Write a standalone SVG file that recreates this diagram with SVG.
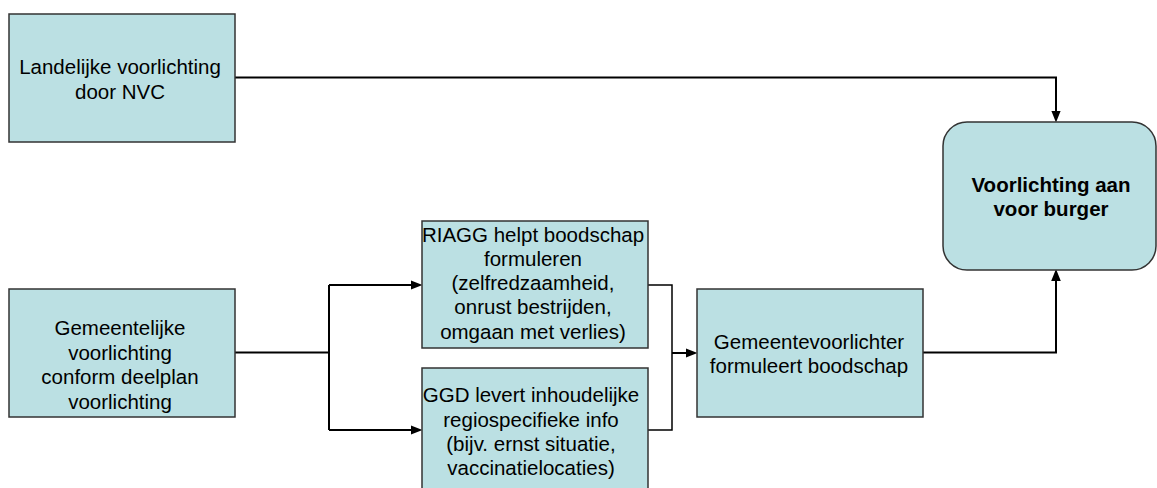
<svg xmlns="http://www.w3.org/2000/svg" width="1157" height="488" viewBox="0 0 1157 488">
<style>
.box{fill:#BBE0E3;stroke:#333;stroke-width:1.5}
.t{font-family:"Liberation Sans",Arial,sans-serif;font-size:20.5px;fill:#000;text-anchor:middle}
.b{font-weight:bold}
.c{fill:none;stroke:#000;stroke-width:2}
.thin{stroke-width:1.5}
</style>
<defs>
<marker id="ah" markerUnits="userSpaceOnUse" markerWidth="12" markerHeight="10" viewBox="0 0 10 8" refX="5" refY="4" orient="auto">
<path d="M0,0 L10,4 L0,8 Z" fill="#000"/>
</marker>
</defs>
<rect width="1157" height="488" fill="#fff"/>
<g id="connectors">
<path class="c" d="M235,77.5 H1056 V116.5" marker-end="url(#ah)"/>
<path class="c" d="M235,352.5 H329 M329,285 V430"/>
<path class="c" d="M329,285 H416.5" marker-end="url(#ah)"/>
<path class="c" d="M329,430 H416.5" marker-end="url(#ah)"/>
<path class="c thin" d="M648,285 H672 V430 H648"/>
<path class="c" d="M672,353 H691.5" marker-end="url(#ah)"/>
<path class="c" d="M923,352.5 H1056 V275" marker-end="url(#ah)"/>
</g>
<g id="n1">
<rect class="box" x="9" y="14" width="226" height="128"/>
<text class="t" x="120" y="74">Landelijke voorlichting</text>
<text class="t" x="120" y="99">door NVC</text>
</g>
<g id="n2">
<rect class="box" x="9" y="289" width="226" height="128"/>
<text class="t" x="120" y="335">Gemeentelijke</text>
<text class="t" x="120" y="359.5">voorlichting</text>
<text class="t" x="120" y="384">conform deelplan</text>
<text class="t" x="120" y="408.5">voorlichting</text>
</g>
<g id="n3">
<rect class="box" x="422" y="221" width="226" height="127"/>
<text class="t" x="533" y="241.5">RIAGG helpt boodschap</text>
<text class="t" x="533" y="265.5">formuleren</text>
<text class="t" x="533" y="290">(zelfredzaamheid,</text>
<text class="t" x="533" y="314">onrust bestrijden,</text>
<text class="t" x="533" y="338.5">omgaan met verlies)</text>
</g>
<g id="n4">
<rect class="box" x="422" y="368" width="226" height="127"/>
<text class="t" x="531" y="402">GGD levert inhoudelijke</text>
<text class="t" x="531" y="426.5">regiospecifieke info</text>
<text class="t" x="531" y="451">(bijv. ernst situatie,</text>
<text class="t" x="531" y="475">vaccinatielocaties)</text>
</g>
<g id="n5">
<rect class="box" x="697" y="289" width="226" height="128"/>
<text class="t" x="809" y="349">Gemeentevoorlichter</text>
<text class="t" x="809" y="373">formuleert boodschap</text>
</g>
<g id="n6">
<rect class="box" x="943" y="122" width="213" height="148" rx="24" ry="24"/>
<text class="t b" x="1051" y="192">Voorlichting aan</text>
<text class="t b" x="1051" y="216">voor burger</text>
</g>
</svg>
